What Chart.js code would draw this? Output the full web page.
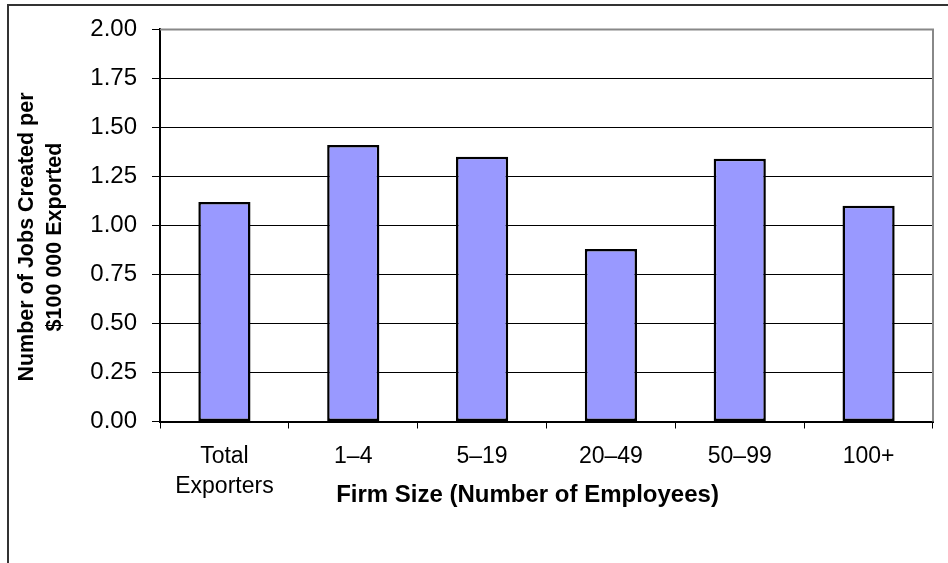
<!DOCTYPE html>
<html>
<head>
<meta charset="utf-8">
<script src="https://cdn.jsdelivr.net/npm/chart.js@4.4.1/dist/chart.umd.min.js"></script>
<style>
  html, body { margin: 0; padding: 0; background: #fff; }
  #wrap { width: 948px; height: 563px; position: relative; }
</style>
</head>
<body>
<div id="wrap"><canvas id="jobs-chart"></canvas></div>
<script>
const firmSizes = [["Total", "Exporters"], "1\u20134", "5\u201319", "20\u201349", "50\u201399", "100+"];
const jobsPer100k = [1.12, 1.41, 1.35, 0.88, 1.34, 1.10];
const yTicks = [0, 0.25, 0.5, 0.75, 1, 1.25, 1.5, 1.75, 2];

const xTitle = "Firm Size (Number of Employees)";
const yTitle = ["Number of Jobs Created per", "$100 000 Exported"];
const FONT = "'Liberation Sans', Arial, sans-serif";

// frame, plot border and axis titles
const decorations = {
  id: "decorations",
  beforeDatasetsDraw(chart) {
    const { ctx, chartArea: a } = chart;
    ctx.save();
    ctx.strokeStyle = "#888";
    ctx.lineWidth = 2;
    ctx.beginPath();
    ctx.moveTo(a.left, a.top);
    ctx.lineTo(a.right, a.top);
    ctx.lineTo(a.right, a.bottom);
    ctx.stroke();
    ctx.restore();
  },
  afterDraw(chart) {
    const { ctx, chartArea: a } = chart;
    ctx.save();
    // outer frame
    ctx.strokeStyle = "#333";
    ctx.lineWidth = 2;
    ctx.beginPath();
    ctx.moveTo(8, 563);
    ctx.lineTo(8, 5);
    ctx.lineTo(948, 5);
    ctx.stroke();

    ctx.fillStyle = "#000";
    ctx.textAlign = "center";
    ctx.textBaseline = "middle";
    ctx.font = "bold 24px " + FONT;
    ctx.fillText(xTitle, a.left + (a.right - a.left) / 2 - 19, 495);

    ctx.translate(41, 237);
    ctx.rotate(-Math.PI / 2);
    ctx.font = "bold 21.5px " + FONT;
    ctx.fillText(yTitle[0], 0, -14);
    ctx.fillText(yTitle[1], 0, 14);
    ctx.restore();
  }
};

new Chart(document.getElementById("jobs-chart"), {
  type: "bar",
  data: {
    labels: firmSizes,
    datasets: [{
      data: jobsPer100k,
      backgroundColor: "#9999ff",
      borderColor: "#000",
      borderWidth: 2.5,
      borderSkipped: false,
      barPercentage: 0.405,
      categoryPercentage: 1
    }]
  },
  options: {
    responsive: true,
    maintainAspectRatio: false,
    animation: false,
    layout: { padding: { top: 28, right: 15, left: 0, bottom: 0 } },
    plugins: { legend: { display: false }, tooltip: { enabled: false } },
    scales: {
      x: {
        offset: true,
        grid: {
          offset: true,
          drawOnChartArea: false,
          drawTicks: true,
          tickLength: 7,
          color: "#000",
          lineWidth: 1
        },
        border: { color: "#000", width: 2 },
        ticks: {
          color: "#000",
          font: { family: FONT, size: 23, lineHeight: 1.3 },
          padding: 13,
          maxRotation: 0,
          autoSkip: false
        },
        afterFit(scale) { scale.height = 563 - 421.5; }
      },
      y: {
        min: 0,
        max: 2,
        afterBuildTicks(scale) { scale.ticks = yTicks.map(v => ({ value: v })); },
        grid: {
          color: ctx => ctx.tick && ctx.tick.value === 2 ? "#888" : "#000",
          lineWidth: 1,
          tickLength: 8,
          tickColor: "#000"
        },
        border: { color: "#000", width: 2 },
        ticks: {
          color: "#000",
          font: { family: FONT, size: 24 },
          padding: 15,
          callback: v => v.toFixed(2)
        },
        afterFit(scale) { scale.width = 160; }
      }
    }
  },
  plugins: [decorations]
});
</script>
</body>
</html>
